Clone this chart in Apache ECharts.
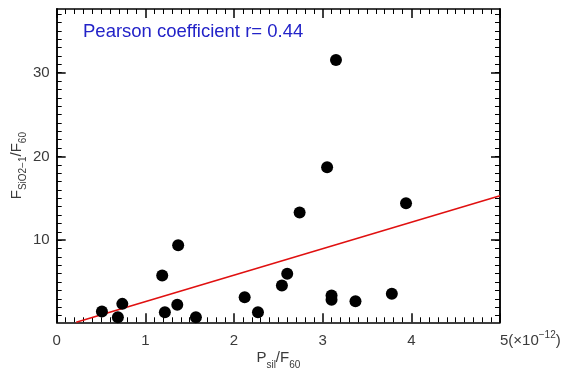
<!DOCTYPE html>
<html>
<head>
<meta charset="utf-8">
<script src="https://cdn.jsdelivr.net/npm/echarts@6/dist/echarts.min.js"></script>
<style>
    html, body { margin: 0; background: #fff; }
    #chart { width: 570px; height: 377px; }
</style>
</head>
<body>
<div id="chart"></div>
<script>
    // P_sil/F_60 (x1e-12) and F_SiO2-1/F_60
    const psilF60 = [0.51, 0.69, 0.74, 1.19, 1.22, 1.37, 1.36, 1.57, 2.12, 2.27,
                     2.54, 2.60, 2.74, 3.05, 3.15, 3.10, 3.10, 3.37, 3.78, 3.94];
    const fsioF60 = [1.5, 0.8, 2.4, 5.8, 1.4, 9.4, 2.3, 0.8, 3.2, 1.4,
                     4.6, 6.0, 13.3, 18.7, 31.5, 3.4, 2.9, 2.7, 3.6, 14.4];
    // fitted line end points (as drawn)
    const fitX = [0.22, 5.0];
    const fitY = [0.2, 15.3];
    const pearsonText = 'Pearson coefficient r= 0.44';

    const xTicks = [0, 1, 2, 3, 4, 5];
    const yTicks = [10, 20, 30];
    const yMinorTicks = [];
    for (let v = 1; v <= 37; v++) yMinorTicks.push(v);

    const font = 'Liberation Sans';
    const axisCol = '#000';
    const textCol = '#3a3a3a';

    function xAxisCfg(pos, withLabels) {
        return {
            type: 'value', position: pos, min: xTicks[0], max: xTicks[xTicks.length - 1], interval: 1,
            axisLine: {onZero: false, lineStyle: {color: axisCol, width: 1.5}},
            axisTick: {inside: true, length: 9, lineStyle: {color: axisCol, width: 1.5}},
            minorTick: {show: true, splitNumber: 10, length: 5, lineStyle: {color: axisCol, width: 1}},
            splitLine: {show: false},
            minorSplitLine: {show: false},
            axisLabel: {
                show: withLabels, margin: 8, color: textCol, fontFamily: font, fontSize: 15,
                alignMaxLabel: 'left',
                formatter: function (v) {
                    if (v === 5) return '{n|5(×10}{s|−12}{n|)}';
                    return '{n|' + v + '}';
                },
                rich: {
                    n: {fontFamily: font, fontSize: 15, color: textCol, lineHeight: 22},
                    s: {fontFamily: font, fontSize: 10, color: textCol, verticalAlign: 'top'}
                }
            }
        };
    }

    function yAxisCfg(pos, values, len, withLabels) {
        return {
            type: 'value', position: pos, min: 0.2, max: 37.6,
            axisLine: {onZero: false, lineStyle: {color: axisCol, width: 1.5}},
            axisTick: {inside: true, length: len, customValues: values,
                lineStyle: {color: axisCol, width: len > 6 ? 1.5 : 1}},
            splitLine: {show: false},
            axisLabel: {show: withLabels, customValues: values, margin: 7,
                color: textCol, fontFamily: font, fontSize: 15}
        };
    }

    const yLeft = yAxisCfg('left', yTicks, 9, true);
    yLeft.name = '{n|F}{s|SiO2−1}{n|/F}{s|60}';
    yLeft.nameLocation = 'middle';
    yLeft.nameGap = 28;
    yLeft.nameMoveOverlap = false;
    yLeft.nameTextStyle = {
        rich: {
            n: {fontFamily: font, fontSize: 15, color: textCol, lineHeight: 24},
            s: {fontFamily: font, fontSize: 10, color: textCol, verticalAlign: 'bottom'}
        }
    };

    const xBottom = xAxisCfg('bottom', true);
    xBottom.name = '{n|P}{s|sil}{n|/F}{s|60}';
    xBottom.nameLocation = 'middle';
    xBottom.nameGap = 24;
    xBottom.nameMoveOverlap = false;
    xBottom.nameTextStyle = {
        rich: {
            n: {fontFamily: font, fontSize: 15, color: textCol, lineHeight: 24},
            s: {fontFamily: font, fontSize: 10, color: textCol, verticalAlign: 'bottom'}
        }
    };

    let myChart = echarts.init(document.getElementById('chart'));
    myChart.setOption({
        animation: false,
        backgroundColor: '#fff',
        title: {
            text: pearsonText, left: 83, top: 22, padding: 0,
            textStyle: {color: '#2323c8', fontFamily: font, fontSize: 18.5, fontWeight: 'normal'}
        },
        grid: {left: 56.7, right: 70, top: 9, bottom: 54.7, containLabel: false, outerBoundsMode: 'none'},
        xAxis: [xBottom, xAxisCfg('top', false)],
        yAxis: [
            yLeft,
            yAxisCfg('left', yMinorTicks, 5, false),
            yAxisCfg('right', yTicks, 9, false),
            yAxisCfg('right', yMinorTicks, 5, false)
        ],
        series: [
            {
                type: 'line', xAxisIndex: 0, yAxisIndex: 0,
                data: fitX.map((x, i) => [x, fitY[i]]),
                showSymbol: false, lineStyle: {color: '#e01010', width: 1.5}, z: 2
            },
            {
                type: 'scatter', xAxisIndex: 0, yAxisIndex: 0,
                data: psilF60.map((x, i) => [x, fsioF60[i]]),
                symbol: 'circle', symbolSize: 12,
                itemStyle: {color: '#000', opacity: 1}, z: 3
            }
        ]
    });
</script>
</body>
</html>
